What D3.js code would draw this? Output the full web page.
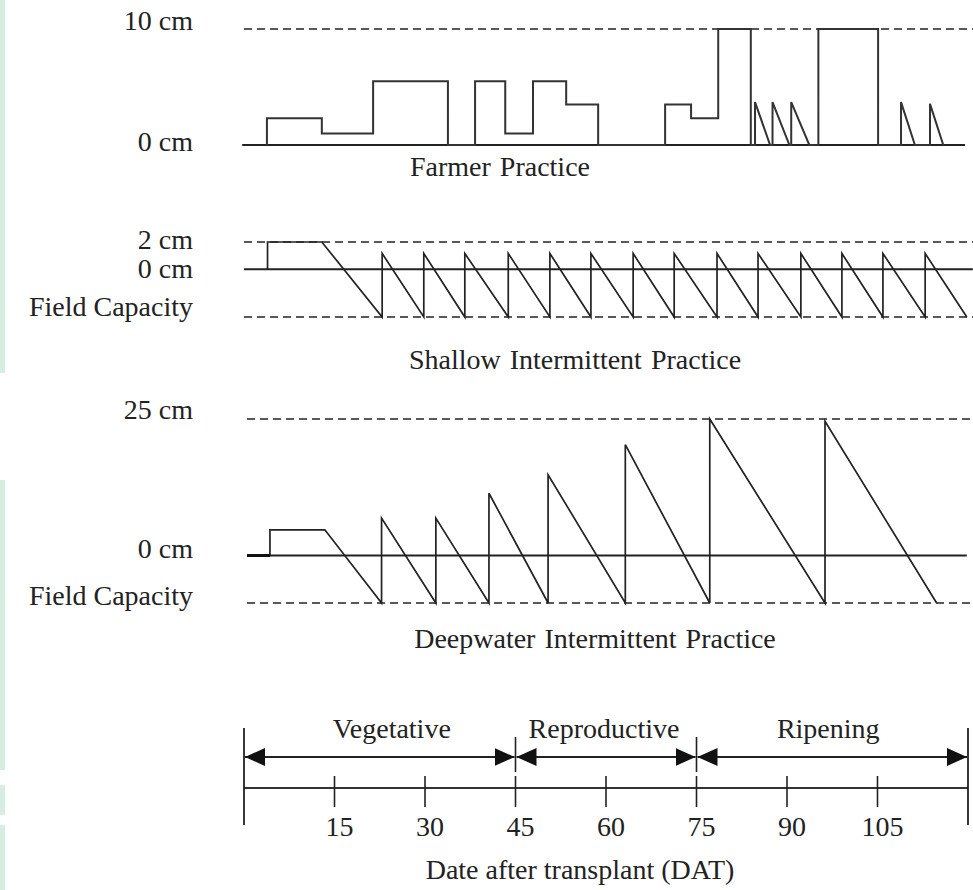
<!DOCTYPE html>
<html>
<head>
<meta charset="utf-8">
<script src="https://cdn.jsdelivr.net/npm/d3@7"></script>
<style>
  html, body { margin: 0; padding: 0; background: #fff; }
  svg { display: block; }
  text { font-family: "Liberation Serif", "Times New Roman", serif; fill: #222; }
</style>
</head>
<body>
<div id="chart"></div>
<script>
// Water level traces: [day after transplant, level in cm]
const FC_SHALLOW = -3.5
const FC_DEEP = -8.7

const farmerTrace = [
  [3.8, 0], [3.8, 2.3], [12.9, 2.3], [12.9, 1.0], [21.4, 1.0], [21.4, 5.5], [33.8, 5.5], [33.8, 0],
  [38.3, 0], [38.3, 5.5], [43.3, 5.5], [43.3, 1.0], [47.9, 1.0], [47.9, 5.5], [53.4, 5.5], [53.4, 3.5],
  [58.7, 3.5], [58.7, 0], [69.8, 0], [69.8, 3.5], [74.1, 3.5], [74.1, 2.3], [78.6, 2.3], [78.6, 10],
  [84.0, 10], [84.0, 0], [84.7, 0], [84.7, 3.7], [87.2, 0], [87.6, 0], [87.6, 3.7], [90.4, 0],
  [90.7, 0], [90.7, 3.7], [93.7, 0], [95.2, 0], [95.2, 10], [105.1, 10], [105.1, 0],
  [108.9, 0], [108.9, 3.7], [111.2, 0], [113.7, 0], [113.7, 3.55], [115.9, 0]
]

const shallowStart = [[3.9, 0], [3.9, 2], [12.9, 2]]
const shallowPeakDays = [22.9, 29.8, 36.6, 43.8, 50.7, 57.5, 64.5, 71.3, 78.4, 85.2, 92.3, 99.1, 105.9, 112.9]
const shallowPeak = 1.16
const shallowEndDay = 119.8

const deepStart = [[0.5, 0], [4.3, 0], [4.3, 4.7], [13.4, 4.7]]
const deepPeakDays = [22.8, 31.8, 40.6, 50.4, 63.2, 77.2, 96.3]
const deepPeaks = [6.85, 6.85, 11.4, 14.8, 20.3, 25, 24.6]
const deepEndDay = 114.8

const dayTicks = [15, 30, 45, 60, 75, 90, 105]
const phases = [
  { name: 'Vegetative', start: 0, end: 45 },
  { name: 'Reproductive', start: 45, end: 75 },
  { name: 'Ripening', start: 75, end: 120 }
]

const width = 973
const height = 890
const FONT = '28px'

const svg = d3.select('#chart').append('svg')
  .attr('width', width)
  .attr('height', height)

// faint green strip on the left edge of the scan
const strip = svg.append('g').attr('fill', '#d6ede2')
;[[0, 373], [480, 770], [785, 815], [825, 890]].forEach(([y0, y1]) => {
  strip.append('rect').attr('x', 0).attr('y', y0).attr('width', 5).attr('height', y1 - y0)
})

const x = d3.scaleLinear().domain([0, 120]).range([244, 968])

const line = (yScale) => d3.line().x(d => x(d[0])).y(d => yScale(d[1]))

function hline(g, yScale, level, d0, d1, dashed) {
  g.append('line')
    .attr('x1', x(d0)).attr('x2', x(d1))
    .attr('y1', yScale(level)).attr('y2', yScale(level))
    .attr('stroke', '#222')
    .attr('stroke-width', dashed ? 1.6 : 1.8)
    .attr('stroke-dasharray', dashed ? '8,5' : null)
}

function leftLabel(g, yPos, txt) {
  g.append('text')
    .attr('x', 193).attr('y', yPos)
    .attr('text-anchor', 'end')
    .style('font-size', FONT)
    .text(txt)
}

function title(g, cx, yPos, txt) {
  g.append('text')
    .attr('x', cx).attr('y', yPos)
    .attr('text-anchor', 'middle')
    .style('font-size', FONT)
    .style('word-spacing', '2px')
    .text(txt)
}

function drawTrace(g, yScale, pts, color, w) {
  g.append('path')
    .datum(pts)
    .attr('d', line(yScale))
    .attr('fill', 'none')
    .attr('stroke', color)
    .attr('stroke-width', w)
    .attr('stroke-linejoin', 'miter')
}

// ---- Farmer practice ----
const yF = d3.scaleLinear().domain([0, 10]).range([145, 29])
const gF = svg.append('g')
hline(gF, yF, 10, 0, 121, true)
hline(gF, yF, 0, -0.3, 119.5, false)
drawTrace(gF, yF, farmerTrace, '#333', 2)
leftLabel(gF, 30, '10 cm')
leftLabel(gF, 151, '0 cm')
title(gF, 500, 176, 'Farmer Practice')

// ---- Shallow intermittent ----
const yS = d3.scaleLinear().domain([FC_SHALLOW, 2]).range([317, 242])
const gS = svg.append('g')
hline(gS, yS, 2, 0, 121, true)
hline(gS, yS, FC_SHALLOW, 0, 121, true)
hline(gS, yS, 0, 0, 120.8, false)
const shallowTrace = shallowStart.slice()
shallowPeakDays.forEach(d => {
  shallowTrace.push([d, FC_SHALLOW], [d, shallowPeak])
})
shallowTrace.push([shallowEndDay, FC_SHALLOW])
drawTrace(gS, yS, shallowTrace, '#222', 1.7)
leftLabel(gS, 249, '2 cm')
leftLabel(gS, 278, '0 cm')
leftLabel(gS, 316, 'Field Capacity')
title(gS, 575, 369, 'Shallow Intermittent Practice')

// ---- Deepwater intermittent ----
const yD = d3.scaleLinear().domain([FC_DEEP, 25]).range([603, 419])
const gD = svg.append('g')
hline(gD, yD, 25, 0.5, 121, true)
hline(gD, yD, FC_DEEP, 0.5, 121, true)
hline(gD, yD, 0, 0.5, 119.8, false)
const deepTrace = deepStart.slice()
deepPeakDays.forEach((d, i) => {
  deepTrace.push([d, FC_DEEP], [d, deepPeaks[i]])
})
deepTrace.push([deepEndDay, FC_DEEP])
drawTrace(gD, yD, deepTrace, '#222', 1.7)
gD.append('line')
  .attr('x1', x(0.5)).attr('x2', x(4.3))
  .attr('y1', yD(0)).attr('y2', yD(0))
  .attr('stroke', '#111').attr('stroke-width', 3)
leftLabel(gD, 419, '25 cm')
leftLabel(gD, 558, '0 cm')
leftLabel(gD, 605, 'Field Capacity')
title(gD, 595, 648, 'Deepwater Intermittent Practice')

// ---- Growth stage timeline ----
const gT = svg.append('g')
const axisY = 788
const arrowY = 757
const phaseLabelShift = [12, -2, -4]

svg.append('defs').append('marker')
  .attr('id', 'arrowhead')
  .attr('viewBox', '0 -9 20 18')
  .attr('refX', 20)
  .attr('refY', 0)
  .attr('markerWidth', 20)
  .attr('markerHeight', 18)
  .attr('markerUnits', 'userSpaceOnUse')
  .attr('orient', 'auto-start-reverse')
  .append('path')
  .attr('d', 'M0,-9L20,0L0,9Z')
  .attr('fill', '#111')

gT.append('line')
  .attr('x1', x(0)).attr('x2', x(120))
  .attr('y1', axisY).attr('y2', axisY)
  .attr('stroke', '#333').attr('stroke-width', 2)

// end bars
;[0, 120].forEach(d => {
  gT.append('line')
    .attr('x1', x(d)).attr('x2', x(d))
    .attr('y1', 728).attr('y2', 825)
    .attr('stroke', '#222').attr('stroke-width', 1.8)
})

// day ticks
gT.selectAll('.tick')
  .data(dayTicks)
  .join('line')
  .attr('class', 'tick')
  .attr('x1', d => x(d)).attr('x2', d => x(d))
  .attr('y1', 776).attr('y2', 807)
  .attr('stroke', '#222').attr('stroke-width', 1.6)

gT.selectAll('.ticklabel')
  .data(dayTicks)
  .join('text')
  .attr('class', 'ticklabel')
  .attr('x', d => x(d) + 5)
  .attr('y', 836)
  .attr('text-anchor', 'middle')
  .style('font-size', FONT)
  .text(d => d)

// phase arrows
phases.forEach((p, i) => {
  gT.append('line')
    .attr('x1', x(p.start) + 1).attr('x2', x(p.end) - 1)
    .attr('y1', arrowY).attr('y2', arrowY)
    .attr('stroke', '#222').attr('stroke-width', 1.8)
    .attr('marker-start', 'url(#arrowhead)')
    .attr('marker-end', 'url(#arrowhead)')
  gT.append('text')
    .attr('x', (x(p.start) + x(p.end)) / 2 + phaseLabelShift[i])
    .attr('y', 738)
    .attr('text-anchor', 'middle')
    .style('font-size', FONT)
    .text(p.name)
})

// dividers between phases
phases.slice(1).forEach(p => {
  gT.append('line')
    .attr('x1', x(p.start)).attr('x2', x(p.start))
    .attr('y1', 737).attr('y2', 772)
    .attr('stroke', '#222').attr('stroke-width', 1.6)
})

gT.append('text')
  .attr('x', 580).attr('y', 879)
  .attr('text-anchor', 'middle')
  .style('font-size', FONT)
  .text('Date after transplant (DAT)')
</script>
</body>
</html>
